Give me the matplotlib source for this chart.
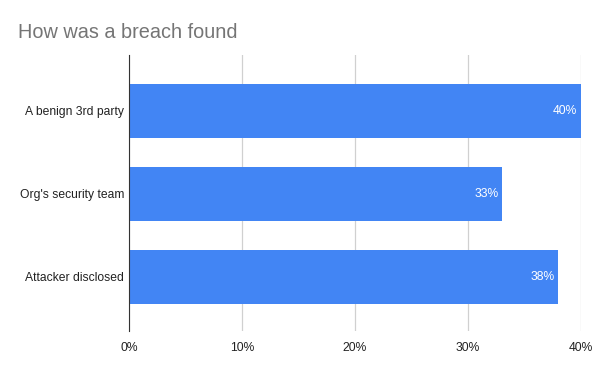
import matplotlib
matplotlib.use('Agg')
import matplotlib.pyplot as plt
from matplotlib.ticker import FuncFormatter

plt.rcParams['font.family'] = ['Liberation Sans', 'DejaVu Sans']

categories = ['A benign 3rd party', "Org's security team", 'Attacker disclosed']
values = [40, 33, 38]
bar_color = '#4285F4'

fig = plt.figure(figsize=(6, 3.71), dpi=100)
ax = fig.add_axes([0.215, 0.108, 0.753, 0.744])

ypos = list(range(len(categories)))
ax.barh(ypos, values, height=0.65, color=bar_color, zorder=2)
for y, v in zip(ypos, values):
    ax.text(v - 0.3, y, f'{v}%', color='white', fontsize=8.7, ha='right', va='center', zorder=3)

ax.set_yticks(ypos)
ax.set_yticklabels(categories, fontsize=8.7, color='#222222')
ax.set_ylim(2.65, -0.67)
ax.set_xlim(0, 40)
ax.set_xticks([0, 10, 20, 30, 40])
ax.xaxis.set_major_formatter(FuncFormatter(lambda x, p: f'{int(x)}%'))
ax.tick_params(axis='x', labelsize=8.7, colors='#222222', length=0, pad=8)
ax.tick_params(axis='y', length=0, pad=3.5)
ax.grid(axis='x', color='#d0d0d0', linewidth=0.9, zorder=0)
for s in ['top', 'right', 'bottom']:
    ax.spines[s].set_visible(False)
ax.spines['left'].set_color('#333333')
ax.spines['left'].set_zorder(4)

fig.text(0.03, 0.912, 'How was a breach found', fontsize=14.3, color='#757575', ha='left', va='center')

fig.savefig('out.png', dpi=100)
